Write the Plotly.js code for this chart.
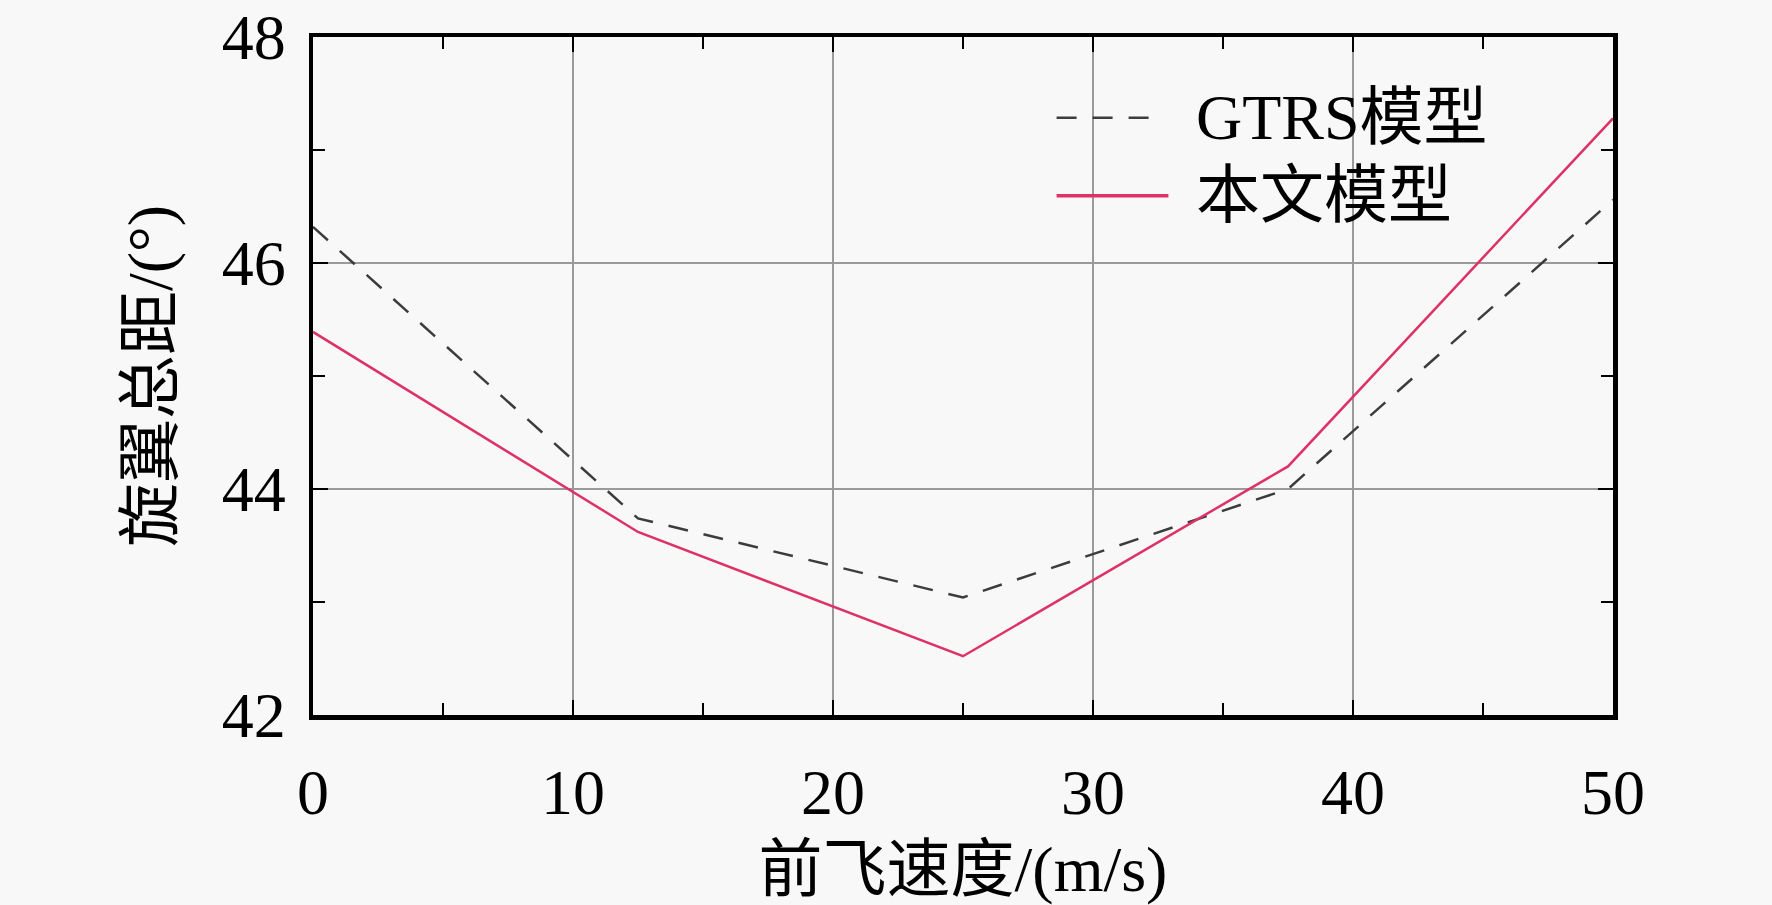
<!DOCTYPE html>
<html>
<head>
<meta charset="utf-8">
<script src="https://cdn.plot.ly/plotly-3.0.1.min.js"></script>
<style>
  html, body { margin: 0; padding: 0; background: #f8f8f8; }
  #chart { width: 1772px; height: 905px; }
</style>
</head>
<body>
<div id="chart"></div>
<script>
// forward speed (m/s)
const speeds = [0, 12.5, 25, 37.5, 50];
// collective pitch (deg)
const gtrsPitch = [46.32, 43.74, 43.04, 44.0, 46.56];
const paperPitch = [45.39, 43.62, 42.52, 44.2, 47.28];

const seriesNames = ['GTRS模型', '本文模型'];
const xTickVals = [0, 10, 20, 30, 40, 50];
const yTickVals = [42, 44, 46, 48];

const FONT = '"Liberation Serif", "Times New Roman", "Noto Sans CJK SC", serif';
const RED = '#dd3265';
const DASH = '#3c3c3c';

var gtrsTrace = {
  x: speeds,
  y: gtrsPitch,
  name: seriesNames[0],
  mode: 'lines',
  line: { color: DASH, width: 2.5, dash: '20px,16px' },
  showlegend: false
};

var paperTrace = {
  x: speeds,
  y: paperPitch,
  name: seriesNames[1],
  mode: 'lines',
  line: { color: RED, width: 2.5 },
  showlegend: false
};

// hand-made legend so the line samples can be as long as in the figure
var legendShapes = [
  { type: 'line', xref: 'paper', yref: 'paper', x0: 0.572, x1: 0.648, y0: 0.881, y1: 0.881,
    line: { color: DASH, width: 2.5, dash: '20px,16px' } },
  { type: 'line', xref: 'paper', yref: 'paper', x0: 0.572, x1: 0.658, y0: 0.766, y1: 0.766,
    line: { color: RED, width: 3.5 } }
];
var legendLabels = [
  { xref: 'paper', yref: 'paper', x: 0.678, y: 0.881, text: seriesNames[0], showarrow: false,
    xanchor: 'left', yanchor: 'middle', font: { family: FONT, size: 64, color: '#000' } },
  { xref: 'paper', yref: 'paper', x: 0.678, y: 0.766, text: seriesNames[1], showarrow: false,
    xanchor: 'left', yanchor: 'middle', font: { family: FONT, size: 64, color: '#000' } }
];

var layout = {
  width: 1772,
  height: 905,
  margin: { l: 313, r: 159, t: 37, b: 190 },
  paper_bgcolor: '#f8f8f8',
  plot_bgcolor: '#f8f8f8',
  font: { family: FONT, size: 64, color: '#000' },
  showlegend: false,
  xaxis: {
    range: [0, 50],
    tickvals: xTickVals,
    ticks: 'inside',
    ticklen: 15,
    tickwidth: 2.5,
    tickcolor: '#000',
    ticklabelstandoff: 18,
    minor: { dtick: 5, ticks: 'inside', ticklen: 12, tickwidth: 2.5, tickcolor: '#000', showgrid: false },
    showline: true,
    linewidth: 4.5,
    linecolor: '#000',
    mirror: 'ticks',
    showgrid: true,
    gridcolor: '#9a9a9a',
    gridwidth: 1.2,
    zeroline: false,
    tickfont: { family: FONT, size: 64 },
    title: { text: '前飞速度/(m/s)', font: { family: FONT, size: 64 }, standoff: 20 }
  },
  yaxis: {
    range: [42, 48],
    tickvals: yTickVals,
    ticks: 'inside',
    ticklen: 15,
    tickwidth: 2.5,
    tickcolor: '#000',
    ticklabelstandoff: 10,
    minor: { dtick: 1, ticks: 'inside', ticklen: 12, tickwidth: 2.5, tickcolor: '#000', showgrid: false },
    showline: true,
    linewidth: 4.5,
    linecolor: '#000',
    mirror: 'ticks',
    showgrid: true,
    gridcolor: '#9a9a9a',
    gridwidth: 1.2,
    zeroline: false,
    tickfont: { family: FONT, size: 64 },
    title: { text: '旋翼总距/(°)', font: { family: FONT, size: 64 }, standoff: 30 }
  },
  shapes: legendShapes,
  annotations: legendLabels
};

Plotly.newPlot('chart', [gtrsTrace, paperTrace], layout, { displayModeBar: false, staticPlot: true });
</script>
</body>
</html>
